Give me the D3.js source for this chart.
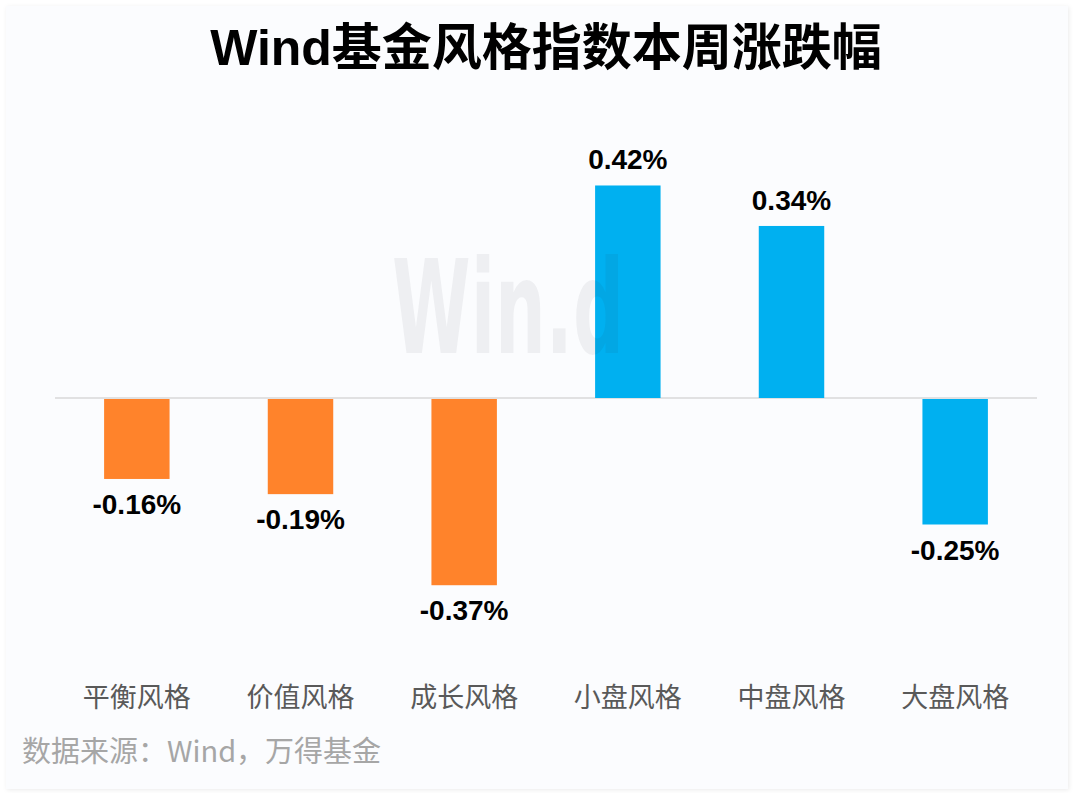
<!DOCTYPE html>
<html>
<head>
<meta charset="utf-8">
<script src="https://cdn.jsdelivr.net/npm/d3@7"></script>
<style>
  html, body { margin: 0; padding: 0; background: #fff; }
  svg { display: block; }
</style>
</head>
<body>
<div id="chart"></div>
<script>
const categories = ["平衡风格", "价值风格", "成长风格", "小盘风格", "中盘风格", "大盘风格"];
const values = [-0.16, -0.19, -0.37, 0.42, 0.34, -0.25];
const barColors = ["#ff832b", "#ff832b", "#ff832b", "#00b0f0", "#00b0f0", "#00b0f0"];
const title = "Wind基金风格指数本周涨跌幅";
const source = "数据来源：Wind，万得基金";

const width = 1080;
const height = 793;
const margin = ({top: 145, right: 43, bottom: 142, left: 55});
const zeroY = 398;
const cjk = "'Liberation Sans', Arial, 'Noto Sans CJK SC', sans-serif";

const svg = d3.select("#chart").append("svg")
    .attr("width", width)
    .attr("height", height)
    .attr("viewBox", [0, 0, width, height]);

const defs = svg.append("defs");
const shadow = defs.append("filter")
    .attr("id", "shadow")
    .attr("x", "-5%").attr("y", "-5%")
    .attr("width", "110%").attr("height", "110%");
shadow.append("feDropShadow")
    .attr("dx", 1).attr("dy", 1)
    .attr("stdDeviation", 2)
    .attr("flood-color", "#000")
    .attr("flood-opacity", 0.08);

// panel
svg.append("rect")
    .attr("x", 6)
    .attr("y", 6)
    .attr("width", 1062)
    .attr("height", 783)
    .attr("fill", "#fbfcfe")
    .attr("filter", "url(#shadow)");

const x = d3.scaleBand()
    .domain(categories)
    .range([margin.left, width - margin.right])
    .paddingInner(0.6)
    .paddingOuter(0.3);

const y = d3.scaleLinear()
    .domain([-0.5, 0.5])
    .range([zeroY + 253, zeroY - 253]);

svg.append("text")
    .attr("x", width / 2 + 6)
    .attr("y", 65)
    .attr("text-anchor", "middle")
    .attr("font-family", cjk)
    .attr("font-weight", "bold")
    .attr("font-size", 50)
    .attr("fill", "#000")
    .text(title);

// zero line
svg.append("line")
    .attr("x1", margin.left)
    .attr("x2", width - margin.right)
    .attr("y1", y(0))
    .attr("y2", y(0))
    .attr("stroke", "#d9d9d9")
    .attr("stroke-width", 1.5);

svg.append("g")
    .selectAll("rect")
    .data(values)
    .join("rect")
    .attr("x", (d, i) => x(categories[i]))
    .attr("y", d => y(Math.max(0, d)) + (d < 0 ? 1 : 0))
    .attr("width", x.bandwidth())
    .attr("height", d => Math.abs(y(d) - y(0)) - (d < 0 ? 1 : 0))
    .attr("fill", (d, i) => barColors[i]);

// watermark on top of bars
svg.append("text")
    .attr("x", 392)
    .attr("y", 353)
    .attr("font-family", "'DejaVu Sans Condensed', 'DejaVu Sans', sans-serif")
    .attr("font-size", 130)
    .attr("font-weight", "bold")
    .attr("textLength", 232)
    .attr("lengthAdjust", "spacingAndGlyphs")
    .attr("fill", "#1a1f3a")
    .attr("fill-opacity", 0.06)
    .text("Win.d");

svg.append("g")
    .selectAll("text")
    .data(values)
    .join("text")
    .attr("x", (d, i) => x(categories[i]) + x.bandwidth() / 2)
    .attr("y", d => d >= 0 ? y(d) - 16 : y(d) + 35)
    .attr("text-anchor", "middle")
    .attr("font-family", "'Liberation Sans', Arial, sans-serif")
    .attr("font-weight", "bold")
    .attr("font-size", 28)
    .attr("fill", "#000")
    .text(d => d.toFixed(2) + "%");

const xAxis = g => g
    .attr("transform", `translate(0,${698})`)
    .call(d3.axisBottom(x).tickSize(0).tickPadding(0))
    .call(g => g.select(".domain").remove())
    .call(g => g.selectAll("text")
        .attr("dy", "0.35em")
        .attr("font-family", cjk)
        .attr("font-size", 27)
        .attr("fill", "#595959"));

svg.append("g").call(xAxis);

svg.append("text")
    .attr("x", 22)
    .attr("y", 752)
    .attr("dy", "0.35em")
    .attr("font-family", "'Noto Sans CJK SC', sans-serif")
    .attr("font-size", 29)
    .attr("fill", "#a6a6a6")
    .text(source);
</script>
</body>
</html>
